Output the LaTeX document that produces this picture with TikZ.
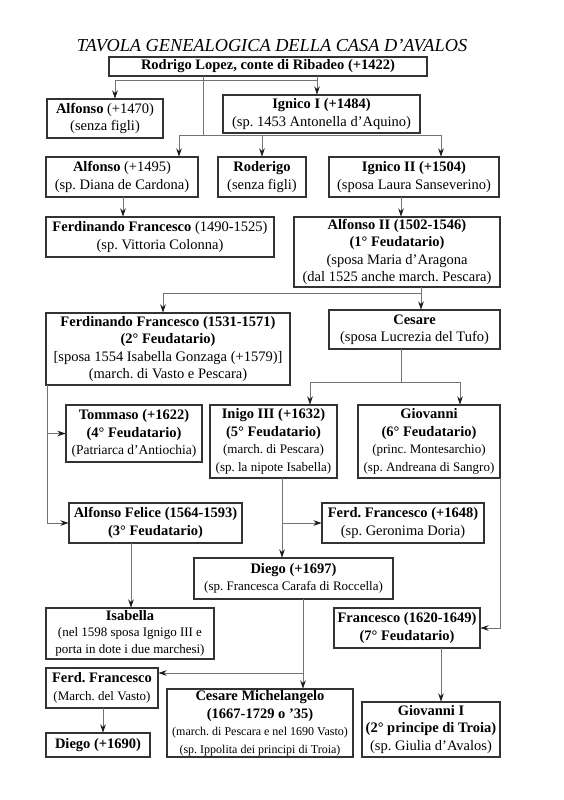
\documentclass[tikz,border=0pt]{standalone}
\usepackage{fontspec}
\setmainfont{Liberation Serif}
\usetikzlibrary{arrows.meta}
\newcommand\nmfont{\fontsize{14.5}{17.5}\selectfont}
\newcommand\mdfont{\fontsize{13.5}{16}\selectfont}
\newcommand\smfont{\fontsize{13}{15.5}\selectfont}
\newcommand\xsfont{\fontsize{12}{14.5}\selectfont}
\begin{document}
\frenchspacing
\begin{tikzpicture}[x=1pt,y=-1pt,
  box/.style={draw=black!80, line width=1.2pt, fill=white, inner sep=0pt, outer sep=0pt, align=center, font=\nmfont},
  ln/.style={draw=black!55, line width=0.7pt},
  arr/.style={ln, -{Stealth[length=8pt,width=5.5pt,color=black!90]}, shorten >=0.5pt}]
\useasboundingbox[fill=white] (0,0) rectangle (563,800);

\node[font=\fontsize{18.3}{20}\selectfont\itshape] (title) at (272,46) {TAVOLA GENEALOGICA DELLA CASA D'AVALOS};

\node[box, minimum width=318, minimum height=19] (rodrigo) at (268,66.5) {\textbf{Rodrigo Lopez, conte di Ribadeo (+1422)}};
\node[box, minimum width=116, minimum height=39] (alfonso1) at (105,118.5) {\textbf{Alfonso} (+1470)\\(senza figli)};
\node[box, minimum width=197, minimum height=38] (ignico1) at (321.5,114) {\textbf{Ignico I (+1484)}\\(sp. 1453 Antonella d'Aquino)};
\node[box, minimum width=152, minimum height=40] (alfonso2) at (122,177) {\textbf{Alfonso} (+1495)\\(sp. Diana de Cardona)};
\node[box, minimum width=88, minimum height=40] (roderigo) at (262,177) {\textbf{Roderigo}\\(senza figli)};
\node[box, minimum width=170, minimum height=40] (ignico2) at (414,177) {\textbf{Ignico II (+1504)}\\(sposa Laura Sanseverino)};
\node[box, minimum width=228, minimum height=40] (ferd1) at (160,237) {\textbf{Ferdinando Francesco} (1490-1525)\\(sp. Vittoria Colonna)};
\node[box, minimum width=206, minimum height=70] (alfonsoII) at (397,252) {\textbf{Alfonso II (1502-1546)}\\\textbf{(1° Feudatario)}\\(sposa Maria d'Aragona\\(dal 1525 anche march. Pescara)};
\node[box, minimum width=244, minimum height=72] (ferd2) at (168,349) {\textbf{Ferdinando Francesco (1531-1571)}\\\textbf{(2° Feudatario)}\\{[}sposa 1554 Isabella Gonzaga (+1579)]\\(march. di Vasto e Pescara)};
\node[box, minimum width=171, minimum height=39] (cesare) at (414.5,329.5) {\textbf{Cesare}\\(sposa Lucrezia del Tufo)};
\node[box, minimum width=136, minimum height=57] (tommaso) at (134,433.5) {\textbf{Tommaso (+1622)}\\\textbf{(4° Feudatario)}\\{\mdfont (Patriarca d'Antiochia)}};
\node[box, minimum width=127, minimum height=73] (inigo3) at (273.5,441.5) {\textbf{Inigo III (+1632)}\\\textbf{(5° Feudatario)}\\{\smfont (march. di Pescara)}\\{\smfont (sp. la nipote Isabella)}};
\node[box, minimum width=142, minimum height=73] (giovanni) at (429,441.5) {\textbf{Giovanni}\\\textbf{(6° Feudatario)}\\{\smfont (princ. Montesarchio)}\\{\smfont (sp. Andreana di Sangro)}};
\node[box, minimum width=173, minimum height=40] (alfonsofelice) at (155.5,523) {\textbf{Alfonso Felice (1564-1593)}\\\textbf{(3° Feudatario)}};
\node[box, minimum width=162, minimum height=40] (ferd1648) at (403,523) {\textbf{Ferd. Francesco (+1648)}\\(sp. Geronima Doria)};
\node[box, minimum width=199, minimum height=41] (diego1) at (293.5,578.5) {\textbf{Diego (+1697)}\\{\smfont (sp. Francesca Carafa di Roccella)}};
\node[box, minimum width=168, minimum height=51] (isabella) at (130,633.5) {\textbf{Isabella}\\[-2pt]{\smfont (nel 1598 sposa Ignigo III e}\\{\smfont porta in dote i due marchesi)}};
\node[box, minimum width=146, minimum height=40] (francesco) at (407,628) {\textbf{Francesco (1620-1649)}\\\textbf{(7° Feudatario)}};
\node[box, minimum width=112, minimum height=40] (ferdmarch) at (102,688) {\textbf{Ferd. Francesco}\\{\smfont (March. del Vasto)}};
\node[box, minimum width=104, minimum height=24] (diego2) at (98,745) {\textbf{Diego (+1690)}};
\node[box, minimum width=186, minimum height=68] (cesaremich) at (260,723) {\textbf{Cesare Michelangelo}\\\textbf{(1667-1729 o '35)}\\{\xsfont (march. di Pescara e nel 1690 Vasto)}\\{\xsfont (sp. Ippolita dei principi di Troia)}};
\node[box, minimum width=138, minimum height=55] (giovanni1) at (431,729.5) {\textbf{Giovanni I}\\\textbf{(2° principe di Troia)}\\(sp. Giulia d'Avalos)};

% connectors
\coordinate (j1) at (317,80);
\draw[ln] (rodrigo.south -| j1) -- (j1);
\draw[arr] (j1) -- (ignico1.north -| j1);
\draw[arr] (j1) -| (alfonso1.north -| 115,0);

\coordinate (j2) at (203,135);
\draw[ln] (rodrigo.south -| j2) -- (j2);
\draw[arr] (j2) -| (alfonso2.north -| 179,0);
\draw[arr] (j2) -| (roderigo.north);
\draw[arr] (j2) -| (ignico2.north -| 441,0);

\draw[arr] (alfonso2.south -| 123,0) -- (ferd1.north -| 123,0);
\draw[arr] (ignico2.south -| 401,0) -- (alfonsoII.north -| 401,0);

\coordinate (j3) at (421,293);
\draw[ln] (alfonsoII.south -| j3) -- (j3);
\draw[arr] (j3) -- (cesare.north -| j3);
\draw[arr] (j3) -| (ferd2.north -| 163,0);

\coordinate (j4) at (401,382);
\draw[ln] (cesare.south -| j4) -- (j4);
\draw[arr] (j4) -| (inigo3.north -| 310,0);
\draw[arr] (j4) -| (giovanni.north -| 460,0);

\coordinate (j5) at (47,433.5);
\draw[arr] (ferd2.south -| j5) |- (alfonsofelice.west);
\draw[arr] (j5) -- (tommaso.west);

\coordinate (j6) at (282,523);
\draw[arr] (inigo3.south -| j6) -- (diego1.north -| j6);
\draw[arr] (j6) -- (ferd1648.west);

\draw[arr] (giovanni.south east) |- (francesco.east);
\draw[arr] (alfonsofelice.south -| 131,0) -- (isabella.north -| 131,0);

\coordinate (j7) at (303,673);
\draw[arr] (diego1.south -| j7) -- (cesaremich.north -| j7);
\draw[arr] (j7) -- (ferdmarch.east |- j7);

\draw[arr] (francesco.south -| 441,0) -- (giovanni1.north -| 441,0);
\draw[arr] (ferdmarch.south -| 103,0) -- (diego2.north -| 103,0);
\end{tikzpicture}
\end{document}
